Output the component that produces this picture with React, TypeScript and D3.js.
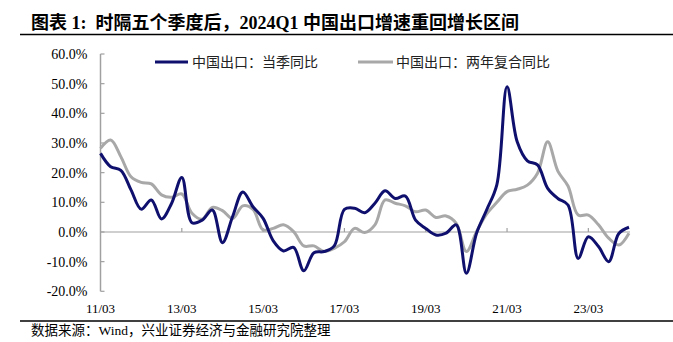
import React from "react";
import * as d3 from "d3";

const quarters = [
  "2011Q1","2011Q2","2011Q3","2011Q4","2012Q1","2012Q2","2012Q3","2012Q4",
  "2013Q1","2013Q2","2013Q3","2013Q4","2014Q1","2014Q2","2014Q3","2014Q4",
  "2015Q1","2015Q2","2015Q3","2015Q4","2016Q1","2016Q2","2016Q3","2016Q4",
  "2017Q1","2017Q2","2017Q3","2017Q4","2018Q1","2018Q2","2018Q3","2018Q4",
  "2019Q1","2019Q2","2019Q3","2019Q4","2020Q1","2020Q2","2020Q3","2020Q4",
  "2021Q1","2021Q2","2021Q3","2021Q4","2022Q1","2022Q2","2022Q3","2022Q4",
  "2023Q1","2023Q2","2023Q3","2023Q4","2024Q1",
];

const yoyQuarter = [
  26.5, 22.0, 20.8, 14.2, 7.7, 10.8, 4.4, 9.7,
  18.4, 3.1, 4.0, 7.4, -3.6, 5.2, 13.5, 8.5,
  4.6, -3.0, -6.4, -5.2, -13.1, -7.0, -6.6, -4.7,
  7.6, 8.0, 6.5, 9.7, 13.9, 11.3, 12.1, 4.0,
  1.2, -1.0, -0.4, 2.4, -13.9, -0.4, 7.5, 16.0,
  49.0, 30.4, 24.0, 22.6, 14.7, 11.3, 9.1, -8.9,
  -1.6, -4.9, -10.0, -0.5, 1.6,
];

const twoYearCagr = [
  28.2, 31.0, 25.4, 18.6, 16.7, 16.2, 12.5, 11.7,
  12.8, 6.3, 4.3, 8.3, 7.2, 4.5, 8.8, 7.6,
  0.7, 1.2, 2.4, 0.1, -4.7, -4.7, -6.6, -5.5,
  -3.3, 1.2, -0.2, 2.4, 10.8, 9.7, 8.8, 6.8,
  7.4, 4.9, 5.4, 2.9, -6.6, 0.1, 6.1, 10.0,
  13.6, 14.4, 15.8, 19.8, 30.4, 20.5, 15.5, 5.7,
  5.7, 2.4, -2.1, -4.4, -0.4,
];

const xTickQuarters = ["2011Q1","2013Q1","2015Q1","2017Q1","2019Q1","2021Q1","2023Q1"];
const xTickLabels = ["11/03","13/03","15/03","17/03","19/03","21/03","23/03"];
const yTicks = [-20, -10, 0, 10, 20, 30, 40, 50, 60];

const seriesNames = ["中国出口：当季同比", "中国出口：两年复合同比"];
const titleText = "图表 1:  时隔五个季度后，2024Q1 中国出口增速重回增长区间";
const sourceText = "数据来源：Wind，兴业证券经济与金融研究院整理";

const W = 673, H = 342;
const plotLeft = 100.5, plotRight = 629;
const yTop = 54, yBottom = 291.3;

export default function App() {
  const x = d3.scalePoint<string>().domain(quarters).range([plotLeft, plotRight]);
  const y = d3.scaleLinear().domain([-20, 60]).range([yBottom, yTop]);

  const line = d3
    .line<number>()
    .x((_, i) => x(quarters[i]) as number)
    .y((d) => y(d))
    .curve(d3.curveCatmullRom.alpha(0.5));

  const serif = "'Liberation Serif', 'Times New Roman', 'Noto Sans CJK SC', serif";
  const cjk = "'Liberation Serif', 'Noto Sans CJK SC', sans-serif";
  const axisColor = "#a0a0a0";
  const navy = "#0f0f6e";
  const gray = "#a8a8a8";

  return (
    <svg
      width={W}
      height={H}
      style={{ position: "absolute", left: 0, top: 0, background: "#fff" }}
    >
      {/* title */}
      <text
        x={31}
        y={29}
        fontFamily={cjk}
        fontWeight="bold"
        fontSize={18}
        fill="#000"
        style={{ whiteSpace: "pre" }}
      >
        {titleText}
      </text>
      <line x1={20} x2={673} y1={34.5} y2={34.5} stroke="#000" strokeWidth={1.5} />

      {/* y axis */}
      <line x1={plotLeft} x2={plotLeft} y1={yTop} y2={yBottom} stroke={axisColor} strokeWidth={1.5} />
      {yTicks.map((t) => (
        <g key={t}>
          <line x1={plotLeft} x2={plotLeft + 4} y1={y(t)} y2={y(t)} stroke={axisColor} strokeWidth={1.2} />
          <text
            x={87.5}
            y={y(t)}
            dy="0.35em"
            textAnchor="end"
            fontFamily={serif}
            fontSize={14}
            fill="#000"
          >
            {t.toFixed(1) + "%"}
          </text>
        </g>
      ))}

      {/* zero line */}
      <line x1={plotLeft} x2={plotRight + 1} y1={y(0)} y2={y(0)} stroke={axisColor} strokeWidth={1.2} />
      {xTickQuarters.map((q, i) => (
        <g key={q}>
          {i > 0 && (
            <line
              x1={x(q) as number}
              x2={x(q) as number}
              y1={y(0)}
              y2={y(0) - 4}
              stroke={axisColor}
              strokeWidth={1.2}
            />
          )}
          <text
            x={x(q) as number}
            y={313}
            textAnchor="middle"
            fontFamily={serif}
            fontSize={13}
            fill="#000"
          >
            {xTickLabels[i]}
          </text>
        </g>
      ))}

      {/* series */}
      <path d={line(twoYearCagr) || ""} fill="none" stroke={gray} strokeWidth={3} strokeLinejoin="round" />
      <path d={line(yoyQuarter) || ""} fill="none" stroke={navy} strokeWidth={3} strokeLinejoin="round" />

      {/* legend */}
      <line x1={155} x2={188} y1={62} y2={62} stroke={navy} strokeWidth={3} />
      <text x={192} y={62} dy="0.36em" fontFamily="'Noto Sans CJK SC', sans-serif" fontSize={14} fill="#222">
        {seriesNames[0]}
      </text>
      <line x1={358} x2={393} y1={62} y2={62} stroke={gray} strokeWidth={3} />
      <text x={396} y={62} dy="0.36em" fontFamily="'Noto Sans CJK SC', sans-serif" fontSize={14} fill="#222">
        {seriesNames[1]}
      </text>

      {/* footer */}
      <line x1={20} x2={673} y1={321} y2={321} stroke="#000" strokeWidth={1.5} />
      <text x={31} y={335} fontFamily={cjk} fontSize={13.5} fill="#000">
        {sourceText}
      </text>
    </svg>
  );
}
